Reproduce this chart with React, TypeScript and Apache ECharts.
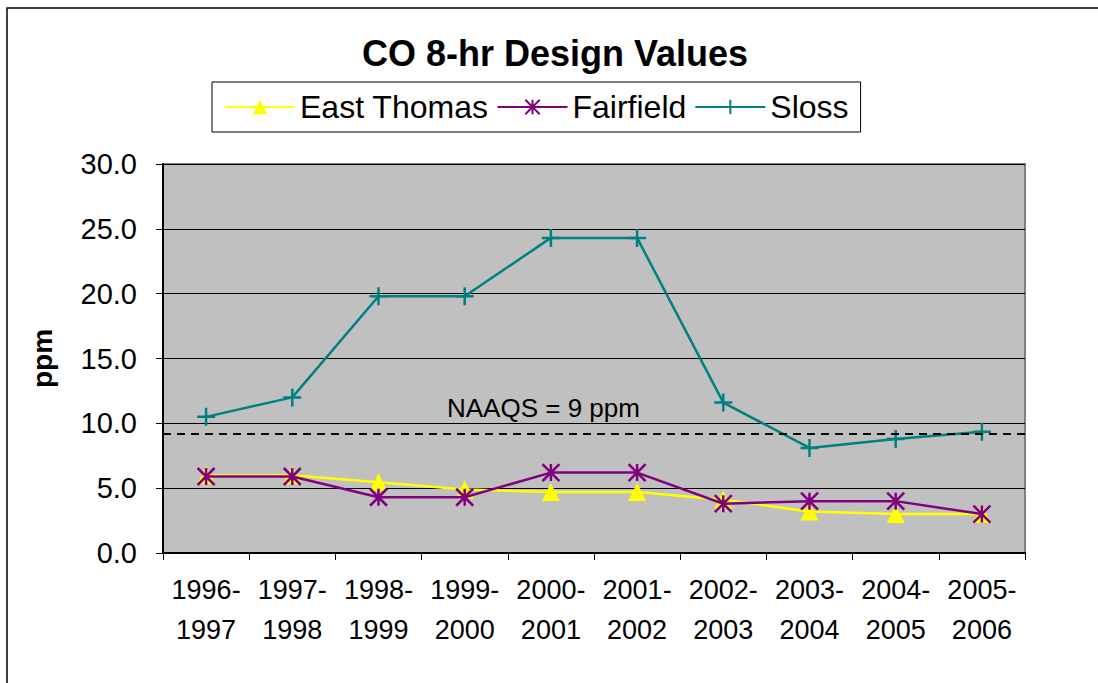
import React, { useEffect, useRef } from "react";
import * as echarts from "echarts";

const categories = [
  "1996-\n1997",
  "1997-\n1998",
  "1998-\n1999",
  "1999-\n2000",
  "2000-\n2001",
  "2001-\n2002",
  "2002-\n2003",
  "2003-\n2004",
  "2004-\n2005",
  "2005-\n2006",
];
const eastThomas = [6.0, 6.0, 5.45, 4.9, 4.7, 4.7, 4.1, 3.2, 3.0, 3.0];
const fairfield = [5.9, 5.9, 4.3, 4.3, 6.2, 6.2, 3.8, 4.0, 4.0, 3.0];
const sloss = [10.5, 12.0, 19.8, 19.8, 24.3, 24.3, 11.6, 8.1, 8.8, 9.35];
const naaqsLevel = 9.2;
const naaqsLabel = "NAAQS = 9 ppm";
const yMin = 0;
const yMax = 30;
const yStep = 5;

const FONT = "'Liberation Sans', Arial, Helvetica, sans-serif";

const plusSymbol = "path://M5,0L5,10M0,5L10,5";
const starSymbol = "path://M0,0L10,10M0,10L10,0M5,0L5,10";

export default function App() {
  const ref = useRef<HTMLDivElement>(null);
  useEffect(() => {
    if (!ref.current) return;
    const chart = echarts.init(ref.current, undefined, { renderer: "svg" });
    chart.setOption({
      animation: false,
      backgroundColor: "#ffffff",
      textStyle: { fontFamily: FONT },
      title: {
        text: "CO 8-hr Design Values",
        left: 362,
        top: 35,
        padding: 0,
        textStyle: { fontFamily: FONT, fontSize: 36, fontWeight: "bold", color: "#000" },
      },
      legend: {
        left: 212,
        top: 82,
        padding: [9, 12, 9, 12],
        borderColor: "#000",
        borderWidth: 1,
        itemWidth: 70,
        itemHeight: 18,
        itemGap: 8,
        textStyle: { fontFamily: FONT, fontSize: 32, color: "#000" },
        data: ["East Thomas", "Fairfield", "Sloss"],
      },
      grid: {
        left: 163,
        top: 164,
        right: 73,
        bottom: 130,
        show: true,
        backgroundColor: "#C0C0C0",
        borderColor: "#808080",
        borderWidth: 2,
      },
      xAxis: {
        type: "category",
        data: categories,
        boundaryGap: true,
        axisLine: { lineStyle: { color: "#000", width: 2 } },
        axisTick: { show: true, length: 7, interval: 0, lineStyle: { color: "#000" } },
        axisLabel: {
          interval: 0,
          fontFamily: FONT,
          fontSize: 27,
          lineHeight: 40,
          color: "#000",
          margin: 17,
        },
      },
      yAxis: {
        type: "value",
        min: yMin,
        max: yMax,
        interval: yStep,
        name: "ppm",
        nameLocation: "middle",
        nameRotate: 90,
        nameGap: 107,
        nameTextStyle: { fontFamily: FONT, fontSize: 28, fontWeight: "bold", color: "#000" },
        axisLine: { show: true, lineStyle: { color: "#000", width: 2 } },
        axisTick: { show: true, length: 7, lineStyle: { color: "#000" } },
        axisLabel: {
          fontFamily: FONT,
          fontSize: 29,
          color: "#000",
          margin: 26,
          formatter: (v: number) => v.toFixed(1),
        },
        splitLine: { show: true, lineStyle: { color: "#000", width: 1 } },
      },
      graphic: [
        {
          type: "rect",
          silent: true,
          shape: { x: 7, y: 8, width: 1300, height: 900 },
          style: { fill: "none", stroke: "#000", lineWidth: 1.5 },
          z: 100,
        },
        {
          type: "text",
          left: 447,
          top: 395,
          silent: true,
          style: { text: naaqsLabel, fontFamily: FONT, fontSize: 26, fill: "#000" },
          z: 100,
        },
      ],
      series: [
        {
          name: "East Thomas",
          type: "line",
          data: eastThomas,
          symbol: "triangle",
          symbolSize: 18,
          showAllSymbol: true,
          lineStyle: { color: "#FFFF00", width: 2.5 },
          itemStyle: { color: "#FFFF00", borderColor: "#FFFF00", borderWidth: 0 },
          z: 2,
        },
        {
          name: "Fairfield",
          type: "line",
          data: fairfield,
          symbol: starSymbol,
          symbolSize: 17,
          showAllSymbol: true,
          lineStyle: { color: "#800080", width: 2.5 },
          itemStyle: { color: "#800080", borderColor: "#800080", borderWidth: 2.5 },
          z: 3,
        },
        {
          name: "Sloss",
          type: "line",
          data: sloss,
          symbol: plusSymbol,
          symbolSize: 18,
          showAllSymbol: true,
          lineStyle: { color: "#008080", width: 2.5 },
          itemStyle: { color: "#008080", borderColor: "#008080", borderWidth: 2.5 },
          z: 4,
          markLine: {
            silent: true,
            symbol: "none",
            label: { show: false },
            lineStyle: { color: "#000", type: [8, 6], width: 2 },
            data: [{ yAxis: naaqsLevel }],
          },
        },
      ],
    });
    return () => chart.dispose();
  }, []);
  return (
    <div
      ref={ref}
      style={{ position: "fixed", left: 0, top: 0, width: 1098, height: 683 }}
    />
  );
}
